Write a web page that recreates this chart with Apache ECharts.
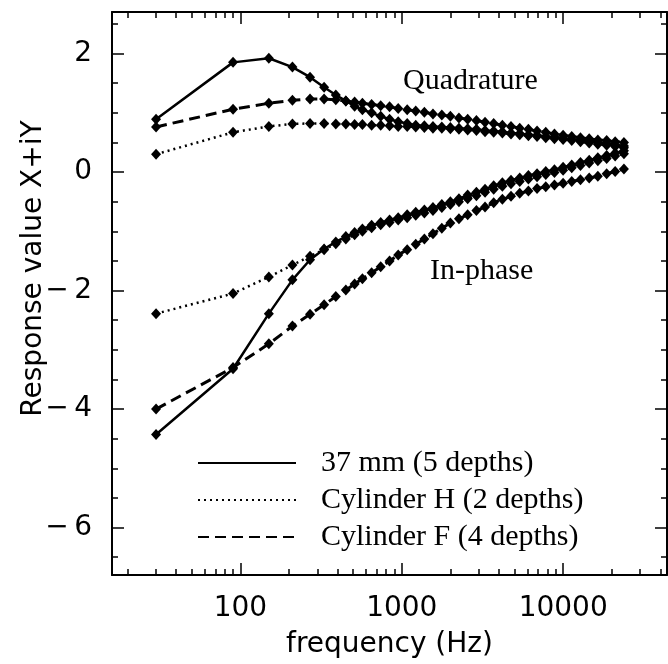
<!DOCTYPE html>
<html>
<head>
<meta charset="utf-8">
<script src="https://cdn.jsdelivr.net/npm/echarts@6/dist/echarts.min.js"></script>
<style>
  html, body { margin: 0; padding: 0; background: #fff; }
  #chart { width: 668px; height: 664px; }
</style>
</head>
<body>
<div id="chart"></div>
<script>
// frequencies (Hz), shared by every curve
var freqs = [30, 90, 150, 210, 270, 330, 390, 450, 510, 570, 650, 740, 840, 950, 1080, 1220, 1380, 1560, 1770, 2000,
  2260, 2560, 2900, 3280, 3710, 4200, 4750, 5380, 6090, 6890, 7800, 8830, 9990, 11300, 12800, 14500, 16400, 18600, 21000, 23800];

// quadrature (upper) parts
var q37 = [0.89, 1.85, 1.92, 1.77, 1.60, 1.43, 1.30, 1.20, 1.11, 1.05, 1.00, 0.94, 0.89, 0.85, 0.82, 0.79, 0.78, 0.77, 0.76, 0.75,
  0.74, 0.73, 0.72, 0.70, 0.69, 0.68, 0.66, 0.65, 0.63, 0.62, 0.60, 0.59, 0.57, 0.55, 0.54, 0.52, 0.50, 0.48, 0.46, 0.44];
var qH = [0.30, 0.67, 0.77, 0.81, 0.82, 0.82, 0.81, 0.81, 0.80, 0.80, 0.79, 0.79, 0.78, 0.77, 0.77, 0.76, 0.75, 0.74, 0.74, 0.73,
  0.72, 0.71, 0.70, 0.68, 0.67, 0.66, 0.64, 0.63, 0.61, 0.60, 0.58, 0.56, 0.55, 0.53, 0.51, 0.49, 0.47, 0.45, 0.43, 0.41];
var qF = [0.76, 1.06, 1.16, 1.21, 1.23, 1.23, 1.22, 1.20, 1.18, 1.16, 1.14, 1.12, 1.10, 1.07, 1.05, 1.03, 1.01, 0.98, 0.96, 0.94,
  0.91, 0.89, 0.87, 0.84, 0.82, 0.79, 0.77, 0.74, 0.72, 0.69, 0.67, 0.64, 0.62, 0.60, 0.58, 0.56, 0.54, 0.53, 0.51, 0.50];

// in-phase (lower) parts
var i37 = [-4.43, -3.32, -2.39, -1.82, -1.48, -1.30, -1.18, -1.09, -1.02, -0.96, -0.90, -0.85, -0.81, -0.77, -0.72, -0.68, -0.64, -0.60, -0.55, -0.50,
  -0.45, -0.39, -0.34, -0.29, -0.23, -0.18, -0.14, -0.10, -0.06, -0.03, 0.01, 0.04, 0.08, 0.12, 0.16, 0.20, 0.24, 0.28, 0.32, 0.36];
var iH = [-2.39, -2.05, -1.77, -1.57, -1.42, -1.31, -1.21, -1.13, -1.06, -1.00, -0.94, -0.89, -0.85, -0.81, -0.77, -0.73, -0.69, -0.65, -0.60, -0.55,
  -0.50, -0.45, -0.40, -0.34, -0.29, -0.24, -0.20, -0.16, -0.12, -0.08, -0.04, -0.01, 0.03, 0.07, 0.11, 0.15, 0.19, 0.23, 0.27, 0.31];
var iF = [-4.00, -3.30, -2.90, -2.60, -2.40, -2.24, -2.10, -1.99, -1.89, -1.80, -1.70, -1.60, -1.50, -1.40, -1.31, -1.22, -1.13, -1.04, -0.95, -0.86,
  -0.79, -0.72, -0.65, -0.59, -0.52, -0.46, -0.41, -0.36, -0.32, -0.28, -0.25, -0.22, -0.19, -0.16, -0.13, -0.10, -0.07, -0.03, 0.01, 0.05];

var names = ['37 mm (5 depths)', 'Cylinder H (2 depths)', 'Cylinder F (4 depths)'];

// tick positions
var xMajor = [100, 1000, 10000];
var xMinor = [20, 30, 40, 50, 60, 70, 80, 90, 200, 300, 400, 500, 600, 700, 800, 900,
  2000, 3000, 4000, 5000, 6000, 7000, 8000, 9000, 20000, 30000, 40000];
var yMajor = [-6, -4, -2, 0, 2];
var yMinor = [-6.5, -5.5, -5, -4.5, -3.5, -3, -2.5, -1.5, -1, -0.5, 0.5, 1, 1.5, 2.5];

(function() {
  var ink = '#000';
  var sans = 'DejaVu Sans';
  var chart = echarts.init(document.getElementById('chart'), null, { renderer: 'canvas' });

  function pairs(ys) {
    return freqs.map(function(f, i) { return [f, ys[i]]; });
  }

  function xAxis(pos, major) {
    return {
      type: 'log', logBase: 10, min: 16, max: 44000, position: pos,
      axisLine: { show: major, onZero: false, lineStyle: { color: ink, width: 2 } },
      axisTick: { show: true, inside: true, length: major ? 12 : 6, customValues: major ? xMajor : xMinor,
        lineStyle: { color: ink, width: 1.5 } },
      axisLabel: { show: major && pos === 'bottom', customValues: xMajor, margin: 20,
        color: ink, fontFamily: sans, fontSize: 28, formatter: function(v) { return String(v); } },
      splitLine: { show: false },
      minorTick: { show: false },
      name: major && pos === 'bottom' ? 'frequency (Hz)' : '',
      nameLocation: 'middle', nameGap: 56, nameMoveOverlap: false,
      nameTextStyle: { color: ink, fontFamily: sans, fontSize: 28 }
    };
  }

  function yAxis(pos, major) {
    return {
      type: 'value', min: -6.8, max: 2.7, position: pos,
      axisLine: { show: major, onZero: false, lineStyle: { color: ink, width: 2 } },
      axisTick: { show: true, inside: true, length: major ? 12 : 6, customValues: major ? yMajor : yMinor,
        lineStyle: { color: ink, width: 1.5 } },
      axisLabel: { show: major && pos === 'left', customValues: yMajor, margin: 20,
        color: ink, fontFamily: sans, fontSize: 28,
        formatter: function(v) { return v < 0 ? '\u2212\u2009' + (-v) : String(v); } },
      splitLine: { show: false },
      name: major && pos === 'left' ? 'Response value X+iY' : '',
      nameLocation: 'middle', nameGap: 64, nameMoveOverlap: false,
      nameTextStyle: { color: ink, fontFamily: sans, fontSize: 28, padding: [0, 0, 0, 50] }
    };
  }

  function line(name, ys, lineType, width) {
    return {
      name: name, type: 'line', data: pairs(ys),
      xAxisIndex: 0, yAxisIndex: 0,
      symbol: 'diamond', symbolSize: [10, 11],
      itemStyle: { color: ink },
      lineStyle: { color: ink, width: width, type: lineType },
      emphasis: { disabled: true }
    };
  }

  chart.setOption({
    animation: false,
    backgroundColor: '#fff',
    grid: { left: 112, right: 1, top: 12, bottom: 89 },
    xAxis: [xAxis('bottom', true), xAxis('bottom', false), xAxis('top', true), xAxis('top', false)],
    yAxis: [yAxis('left', true), yAxis('left', false), yAxis('right', true), yAxis('right', false)],
    legend: {
      data: names,
      orient: 'vertical', left: 192, top: 443,
      itemWidth: 98, itemHeight: 4, itemGap: 7,
      itemStyle: { opacity: 0 },
      textStyle: { color: ink, fontFamily: 'Liberation Serif', fontSize: 30, lineHeight: 30, padding: [0, 0, 0, 20] }
    },
    graphic: [
      { type: 'text', left: 403, top: 66, style: { text: 'Quadrature', fill: ink, font: '30px "Liberation Serif"' } },
      { type: 'text', left: 430, top: 256, style: { text: 'In-phase', fill: ink, font: '30px "Liberation Serif"' } }
    ],
    series: [
      line(names[0], q37, 'solid', 2.5),
      line(names[0], i37, 'solid', 2.5),
      line(names[1], qH, [2, 4], 2.5),
      line(names[1], iH, [2, 4], 2.5),
      line(names[2], qF, [11, 6], 3),
      line(names[2], iF, [11, 6], 3)
    ]
  });
})();
</script>
</body>
</html>
